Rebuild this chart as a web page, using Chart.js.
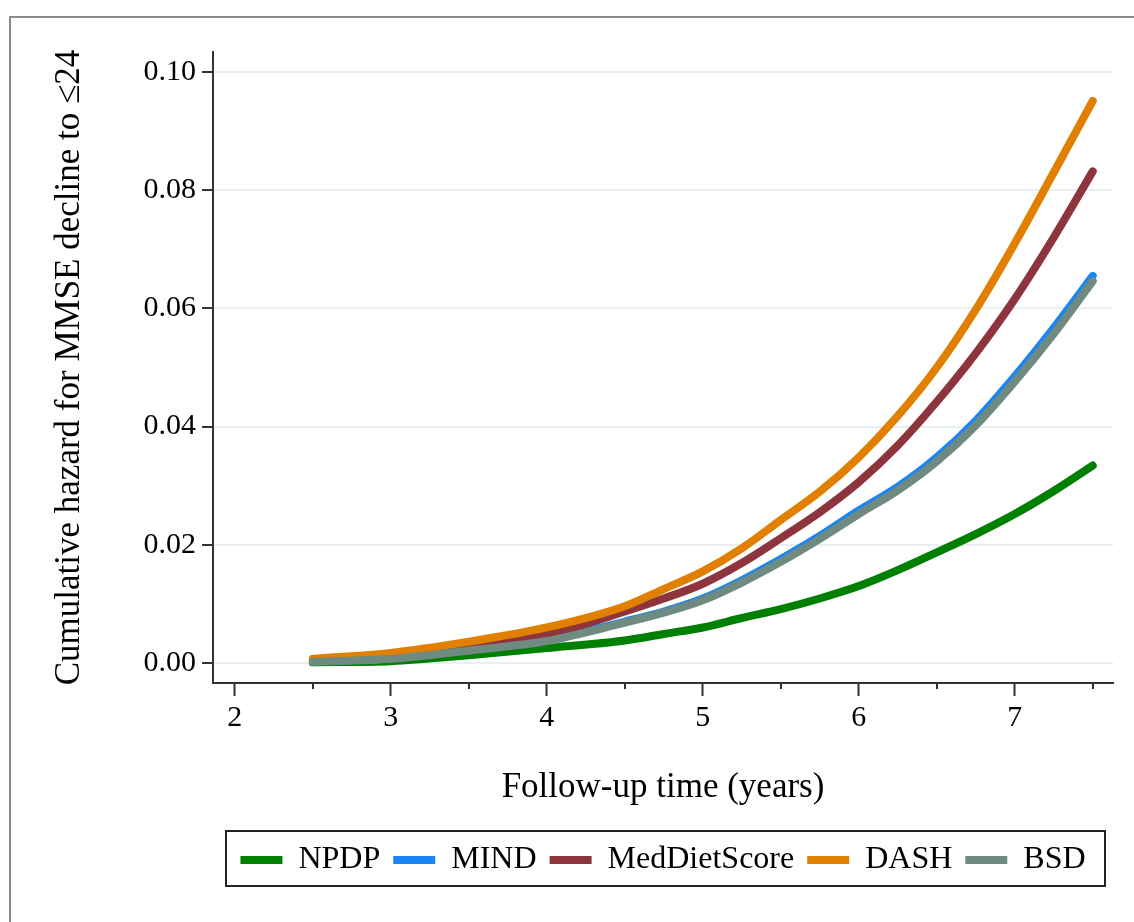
<!DOCTYPE html>
<html>
<head>
<meta charset="utf-8">
<script src="https://cdn.jsdelivr.net/npm/chart.js@4"></script>
<style>
  html, body { margin: 0; padding: 0; background: #fff; overflow: hidden; }
  #frame { position: absolute; left: 9px; top: 16px; width: 1200px; height: 1000px; border: 2px solid #8c8c8c; }
  #wrap { position: absolute; left: 0; top: 0; width: 1134px; height: 922px; }
</style>
</head>
<body>
<div id="frame"></div>
<div id="wrap"><canvas id="chart" width="1134" height="922"></canvas></div>
<script>
// follow-up time (years) and cumulative hazard
const years = [2.5, 3, 3.5, 4, 4.5, 4.75, 5, 5.25, 5.5, 5.75, 6, 6.25, 6.5, 6.75, 7, 7.25, 7.5];
const npdp = [0.0001, 0.0003, 0.0013, 0.0025, 0.0038, 0.0049, 0.0060, 0.0076, 0.0091, 0.0109, 0.0130, 0.0157, 0.0187, 0.0218, 0.0252, 0.0291, 0.0334];
const mind = [0.0003, 0.0008, 0.0022, 0.0039, 0.0070, 0.0087, 0.0109, 0.0140, 0.0176, 0.0215, 0.0258, 0.0298, 0.0348, 0.0410, 0.0485, 0.0567, 0.0655];
const medDiet = [0.0004, 0.0011, 0.0028, 0.0048, 0.0087, 0.0109, 0.0134, 0.0169, 0.0211, 0.0255, 0.0306, 0.0368, 0.0442, 0.0524, 0.0616, 0.0720, 0.0832];
const dash = [0.0007, 0.0017, 0.0036, 0.0060, 0.0096, 0.0125, 0.0155, 0.0194, 0.0242, 0.0290, 0.0348, 0.0418, 0.0500, 0.0598, 0.0710, 0.0830, 0.0951];
const bsd = [0.0002, 0.0007, 0.0021, 0.0037, 0.0068, 0.0085, 0.0106, 0.0136, 0.0171, 0.0210, 0.0252, 0.0292, 0.0341, 0.0402, 0.0476, 0.0557, 0.0646];
const minorTicks = [2.5, 3.5, 4.5, 5.5, 6.5, 7.5];

const serif = "'Liberation Serif', 'Times New Roman', serif";

function pts(vals) {
  return years.map((t, i) => ({ x: t, y: vals[i] }));
}

function series(label, vals, color, order) {
  return {
    label,
    data: pts(vals),
    borderColor: color,
    backgroundColor: color,
    borderWidth: 8,
    borderCapStyle: 'round',
    pointRadius: 0,
    cubicInterpolationMode: 'monotone',
    fill: false,
    order
  };
}

// small ticks at the half years, below the x axis
const minorTickPlugin = {
  id: 'minorTicks',
  afterDraw(chart) {
    const ctx = chart.ctx;
    const xs = chart.scales.x;
    const y0 = chart.chartArea.bottom;
    ctx.save();
    ctx.strokeStyle = '#333';
    ctx.lineWidth = 2;
    minorTicks.forEach(v => {
      const px = Math.round(xs.getPixelForValue(v));
      ctx.beginPath();
      ctx.moveTo(px, y0);
      ctx.lineTo(px, y0 + 6);
      ctx.stroke();
    });
    ctx.restore();
  }
};

// box round the legend
const legendBoxPlugin = {
  id: 'legendBox',
  afterDraw(chart) {
    const lg = chart.legend;
    const ctx = chart.ctx;
    const a = chart.chartArea;
    ctx.save();
    ctx.strokeStyle = '#222';
    ctx.lineWidth = 2;
    ctx.strokeRect(a.left + 13, lg.top, a.right - a.left - 21, lg.bottom - lg.top);
    ctx.restore();
  }
};

new Chart(document.getElementById('chart'), {
  type: 'line',
  data: {
    datasets: [
      series('NPDP', npdp, '#008000', 4),
      series('MIND', mind, '#1a86f5', 3),
      series('MedDietScore', medDiet, '#8e343c', 2),
      series('DASH', dash, '#e17f00', 1),
      series('BSD', bsd, '#6f8a80', 0)
    ]
  },
  options: {
    responsive: false,
    animation: false,
    layout: { padding: { left: 49, top: 52, right: 21, bottom: 36 } },
    plugins: {
      tooltip: { enabled: false },
      legend: {
        position: 'bottom',
        fullSize: false,
        labels: {
          boxWidth: 42,
          boxHeight: 8,
          padding: 13,
          color: '#000',
          font: { family: serif, size: 32 },
          generateLabels: chart => chart.data.datasets.map((ds, i) => ({
            text: ds.label,
            fillStyle: ds.borderColor,
            strokeStyle: ds.borderColor,
            lineWidth: 0,
            hidden: false,
            datasetIndex: i,
            fontColor: '#000'
          }))
        }
      }
    },
    scales: {
      x: {
        type: 'linear',
        min: 1.86,
        max: 7.63,
        afterFit: s => { s.height = 148; },
        border: { color: '#333', width: 2 },
        grid: { drawOnChartArea: false, tickLength: 13, tickColor: '#333', tickWidth: 2 },
        ticks: {
          stepSize: 1,
          includeBounds: false,
          padding: 4,
          color: '#000',
          font: { family: serif, size: 30 },
          callback: v => String(v)
        },
        title: {
          display: true,
          text: 'Follow-up time (years)',
          color: '#000',
          font: { family: serif, size: 35 },
          padding: { top: 0, bottom: 22 }
        }
      },
      y: {
        min: -0.0034,
        max: 0.1034,
        afterFit: s => { s.width = 164; },
        border: { color: '#333', width: 2 },
        grid: { color: '#e8f0f1', lineWidth: 2, tickLength: 11, tickColor: '#333', tickWidth: 2 },
        ticks: {
          stepSize: 0.02,
          includeBounds: false,
          padding: 6,
          color: '#000',
          font: { family: serif, size: 30 },
          callback: v => v.toFixed(2)
        },
        title: {
          display: true,
          text: 'Cumulative hazard for MMSE decline to ≤24',
          color: '#000',
          font: { family: serif, size: 35 },
          padding: { top: 0, bottom: 0 }
        }
      }
    }
  },
  plugins: [minorTickPlugin, legendBoxPlugin]
});
</script>
</body>
</html>
